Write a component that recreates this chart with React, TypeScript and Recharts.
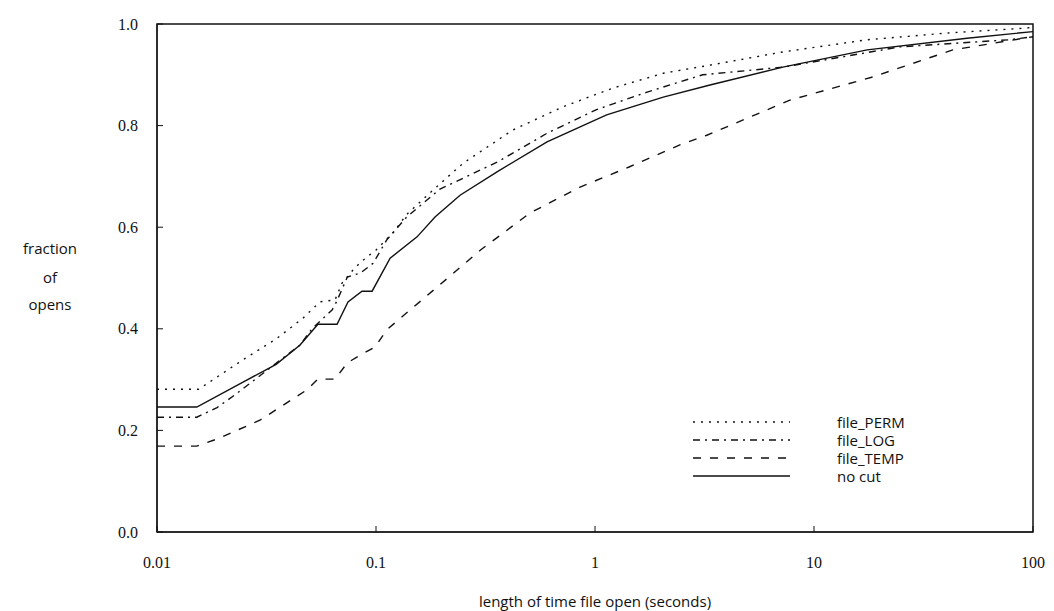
import { LineChart, Line, XAxis, YAxis, ReferenceArea } from "recharts"

// time open (seconds) and cumulative fraction of opens, per file class
const permX = [0.01, 0.0155, 0.0247, 0.035, 0.0464, 0.0555, 0.065, 0.07, 0.08, 0.09, 0.1, 0.12, 0.138, 0.182, 0.25, 0.42, 0.714, 1.21, 2.05, 3.35, 7.2, 17.5, 40, 94, 100]
const permY = [0.281, 0.281, 0.339, 0.38, 0.421, 0.453, 0.457, 0.49, 0.52, 0.54, 0.555, 0.59, 0.625, 0.673, 0.726, 0.791, 0.837, 0.874, 0.903, 0.919, 0.945, 0.969, 0.982, 0.992, 0.994]

const logX = [0.01, 0.0152, 0.0188, 0.0227, 0.03, 0.045, 0.051, 0.063, 0.066, 0.074, 0.085, 0.097, 0.112, 0.138, 0.196, 0.357, 0.604, 1.01, 1.73, 3.1, 7.2, 24.7, 78, 100]
const logY = [0.226, 0.226, 0.245, 0.27, 0.31, 0.368, 0.4, 0.437, 0.453, 0.502, 0.51, 0.529, 0.575, 0.62, 0.675, 0.728, 0.785, 0.831, 0.866, 0.9, 0.915, 0.955, 0.969, 0.975]

const tempX = [0.01, 0.0152, 0.0188, 0.0295, 0.0484, 0.0543, 0.065, 0.074, 0.0845, 0.099, 0.112, 0.143, 0.19, 0.3, 0.505, 0.855, 1.44, 2.44, 3.24, 7.76, 18.6, 43, 100]
const tempY = [0.169, 0.169, 0.183, 0.22, 0.28, 0.301, 0.301, 0.333, 0.348, 0.364, 0.398, 0.437, 0.482, 0.555, 0.628, 0.679, 0.719, 0.762, 0.781, 0.85, 0.896, 0.949, 0.975]

const allX = [0.01, 0.0152, 0.0247, 0.035, 0.045, 0.0543, 0.0664, 0.0745, 0.0863, 0.096, 0.116, 0.154, 0.186, 0.242, 0.357, 0.604, 1.13, 2.05, 3.35, 7.2, 17.5, 50, 100]
const allY = [0.246, 0.246, 0.295, 0.33, 0.368, 0.409, 0.409, 0.453, 0.474, 0.474, 0.539, 0.581, 0.62, 0.663, 0.709, 0.768, 0.821, 0.856, 0.88, 0.915, 0.949, 0.972, 0.985]

const xTicks = [0.01, 0.1, 1, 10, 100]
const xTickLabels = ["0.01", "0.1", "1", "10", "100"]
const yTicks = [0, 0.2, 0.4, 0.6, 0.8, 1]
const yTickLabels = ["0.0", "0.2", "0.4", "0.6", "0.8", "1.0"]

const toPoints = (xs: number[], ys: number[]) => xs.map((x, i) => ({ x, y: ys[i] }))

const series = [
  { name: "file_PERM", data: toPoints(permX, permY), dash: "2 6" },
  { name: "file_LOG", data: toPoints(logX, logY), dash: "7 5 2 5" },
  { name: "file_TEMP", data: toPoints(tempX, tempY), dash: "8 9" },
  { name: "no cut", data: toPoints(allX, allY), dash: undefined },
]

const serif = "Liberation Serif"
const textFont = "Open Sans"

function XTick(props: any) {
  const { x, y, payload } = props
  return (
    <text x={x} y={y} dy="0.71em" textAnchor="middle" style={{ fontFamily: serif, fontSize: 16 }} fill="#111">
      {xTickLabels[xTicks.indexOf(payload.value)]}
    </text>
  )
}

function YTick(props: any) {
  const { x, y, payload } = props
  return (
    <text x={x} y={y} dy="0.35em" textAnchor="end" style={{ fontFamily: serif, fontSize: 16 }} fill="#111">
      {yTickLabels[yTicks.indexOf(payload.value)]}
    </text>
  )
}

function LegendBox() {
  return (
    <div style={{ position: "absolute", left: 685, top: 405, fontFamily: textFont, fontSize: 15, color: "#111" }}>
      {series.map((s) => (
        <div key={s.name} style={{ display: "flex", alignItems: "center", height: 18 }}>
          <svg width={97} height={18}>
            <line x1={0} y1={9} x2={97} y2={9} stroke="#111" strokeWidth={1.4} strokeDasharray={s.dash} />
          </svg>
          <span style={{ marginLeft: 47, lineHeight: "18px" }}>{s.name}</span>
        </div>
      ))}
    </div>
  )
}

function YTitle(props: any) {
  const vb = props.viewBox || {}
  const cx = 42
  const cy = (vb.y ?? 0) + (vb.height ?? 0) / 2
  return (
    <text x={cx} y={cy - 24} textAnchor="middle" fontFamily={textFont} fontSize={15} fill="#111">
      <tspan x={cx} dy={0}>fraction</tspan>
      <tspan x={cx} dy={29}>of</tspan>
      <tspan x={cx} dy={27}>opens</tspan>
    </text>
  )
}

export default function App() {
  return (
    <div style={{ position: "relative", width: 1046, height: 603, background: "#fff", fontFamily: serif }}>
      <LineChart width={1046} height={603} margin={{ top: 16, right: 21, left: 0, bottom: 0 }}>
        <XAxis
          dataKey="x"
          type="number"
          scale="log"
          domain={[0.01, 100]}
          ticks={xTicks}
          allowDataOverflow
          height={79}
          tickSize={-6}
          tickMargin={31}
          tick={<XTick />}
          stroke="#111"
          label={{
            value: "length of time file open (seconds)",
            position: "insideBottom",
            offset: 4,
            style: { fontFamily: textFont, fontSize: 15, fill: "#111" },
          }}
        />
        <YAxis
          dataKey="y"
          type="number"
          domain={[0, 1]}
          ticks={yTicks}
          width={149}
          tickSize={-6}
          tickMargin={25}
          tick={<YTick />}
          stroke="#111"
          label={<YTitle />}
        />
        <ReferenceArea x1={0.01} x2={100} y1={0} y2={1} fill="none" stroke="#111" strokeWidth={1.5} ifOverflow="visible" />
        {series.map((s) => (
          <Line
            key={s.name}
            data={s.data}
            dataKey="y"
            name={s.name}
            type="linear"
            stroke="#111"
            strokeWidth={1.4}
            strokeDasharray={s.dash}
            dot={false}
            activeDot={false}
            isAnimationActive={false}
          />
        ))}
      </LineChart>
      <LegendBox />
    </div>
  )
}
